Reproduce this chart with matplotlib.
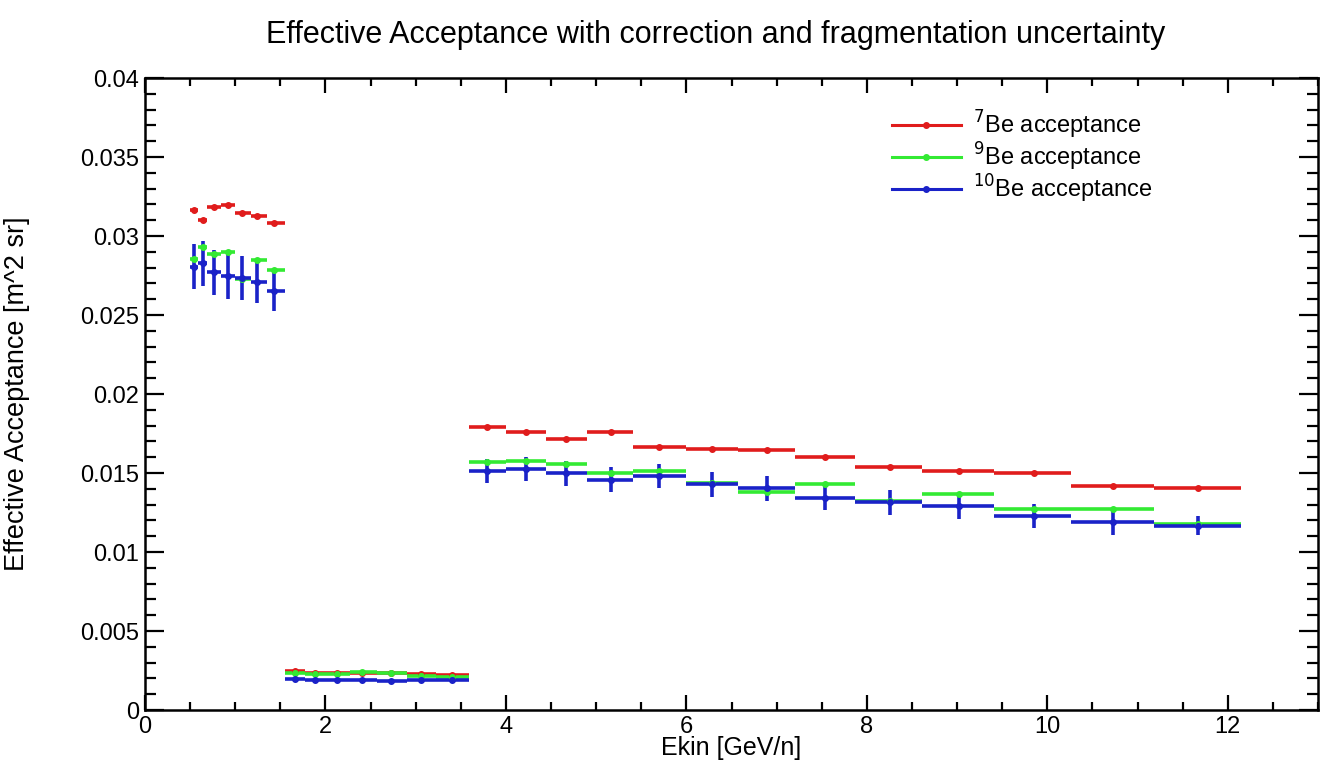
import numpy as np
import matplotlib.pyplot as plt
from matplotlib.ticker import MultipleLocator, FuncFormatter

plt.rcParams['font.family'] = ['Liberation Sans', 'DejaVu Sans']

# Ekin bins [GeV/n]: low (7), middle (7) and high (13) ranges
edges_low = [0.50, 0.59, 0.69, 0.84, 1.00, 1.17, 1.35, 1.55]
x_low = [0.54, 0.64, 0.77, 0.92, 1.07, 1.24, 1.43]
edges_mid = [1.55, 1.77, 2.00, 2.27, 2.57, 2.90, 3.23, 3.59]
x_mid = [1.66, 1.88, 2.13, 2.41, 2.73, 3.06, 3.40]
edges_high = [3.59, 4.00, 4.44, 4.90, 5.41, 5.99, 6.57, 7.20, 7.87, 8.61,
              9.41, 10.26, 11.18, 12.15]
x_high = [3.79, 4.22, 4.67, 5.16, 5.70, 6.28, 6.89, 7.54, 8.26, 9.02, 9.85,
          10.73, 11.67]

# 7Be
be7_low = [0.03165, 0.03099, 0.03182, 0.03194, 0.03147, 0.03128, 0.03082]
be7_mid = [0.00245, 0.00237, 0.00232, 0.00233, 0.00233, 0.00226, 0.00224]
be7_high = [0.01793, 0.01762, 0.01715, 0.01757, 0.01667, 0.01650, 0.01644,
            0.01603, 0.01540, 0.01515, 0.01498, 0.01420, 0.01403]

# 9Be
be9_low = [0.02853, 0.02930, 0.02886, 0.02900, 0.02730, 0.02850, 0.02788]
be9_mid = [0.00232, 0.00228, 0.00226, 0.00238, 0.00232, 0.00215, 0.00210]
be9_high = [0.01570, 0.01578, 0.01559, 0.01498, 0.01511, 0.01435, 0.01382,
            0.01430, 0.01320, 0.01367, 0.01270, 0.01274, 0.01177]

# 10Be, with fragmentation uncertainty
be10_low = [0.02806, 0.02827, 0.02770, 0.02747, 0.02732, 0.02707, 0.02654]
be10_mid = [0.00195, 0.00193, 0.00190, 0.00188, 0.00186, 0.00187, 0.00189]
be10_high = [0.01513, 0.01523, 0.01498, 0.01456, 0.01481, 0.01428, 0.01403,
             0.01340, 0.01314, 0.01289, 0.01228, 0.01188, 0.01167]
be10_err_low = [0.00142, 0.00142, 0.00142, 0.00146, 0.00140, 0.00134, 0.00130]
be10_err_mid = [0.00006, 0.00006, 0.00006, 0.00006, 0.00006, 0.00006, 0.00006]
be10_err_high = [0.00074, 0.00076, 0.00079, 0.00079, 0.00076, 0.00081, 0.00078,
                 0.00076, 0.00077, 0.00080, 0.00078, 0.00081, 0.00060]

small_err = 0.00006

x = np.array(x_low + x_mid + x_high)
lo = np.array(edges_low[:-1] + edges_mid[:-1] + edges_high[:-1])
hi = np.array(edges_low[1:] + edges_mid[1:] + edges_high[1:])
xerr = [x - lo, hi - x]

series = [
    (be7_low + be7_mid + be7_high, None, '#e01c1c', r'$^{7}$Be acceptance'),
    (be9_low + be9_mid + be9_high, None, '#33ea33', r'$^{9}$Be acceptance'),
    (be10_low + be10_mid + be10_high, be10_err_low + be10_err_mid + be10_err_high,
     '#1a22c8', r'$^{10}$Be acceptance'),
]

fig = plt.figure(figsize=(13.28, 7.67), dpi=100)
ax = fig.add_axes([0.1092, 0.0743, 0.8833, 0.824])

# one segment per bin: x bars span the bin, y bars show the uncertainty
for y, yerr, col, lab in series:
    if yerr is None:
        yerr = [small_err] * len(y)
    ax.errorbar(x, y, xerr=xerr, yerr=yerr, fmt='o', ms=4, color=col,
                ecolor=col, elinewidth=2.6, capsize=0, linestyle='none')
    ax.plot([], [], '-o', color=col, lw=2.2, ms=4, label=lab)

ax.set_xlim(0, 13)
ax.set_ylim(0, 0.04)
ax.xaxis.set_major_locator(MultipleLocator(2))
ax.xaxis.set_minor_locator(MultipleLocator(0.5))
ax.yaxis.set_major_locator(MultipleLocator(0.005))
ax.yaxis.set_minor_locator(MultipleLocator(0.001))
ax.yaxis.set_major_formatter(FuncFormatter(lambda v, p: f"{v:g}"))
ax.xaxis.set_major_formatter(FuncFormatter(lambda v, p: f"{v:g}"))

ax.tick_params(which='both', direction='in', top=True, right=True,
               labelsize=17, width=1.6, color='black')
ax.tick_params(axis='y', which='major', length=14, pad=4)
ax.tick_params(axis='y', which='minor', length=8)
ax.tick_params(axis='x', which='major', length=11, pad=4)
ax.tick_params(axis='x', which='minor', length=6)
for sp in ax.spines.values():
    sp.set_linewidth(1.8)

ax.set_xlabel('Ekin [GeV/n]', fontsize=18)
ax.set_ylabel('Effective Acceptance [m^2 sr]', fontsize=19.5)
ax.xaxis.set_label_coords(0.5, -0.041)
ax.yaxis.set_label_coords(-0.098, 0.5)
fig.text(0.539, 0.954, 'Effective Acceptance with correction and fragmentation uncertainty',
         ha='center', va='center', fontsize=22)

ax.legend(loc='upper left', bbox_to_anchor=(0.637, 0.952), frameon=False,
          fontsize=17, handlelength=2.9, handletextpad=0.5, labelspacing=0.0,
          borderpad=0, borderaxespad=0)

fig.savefig('out.png', dpi=100)
